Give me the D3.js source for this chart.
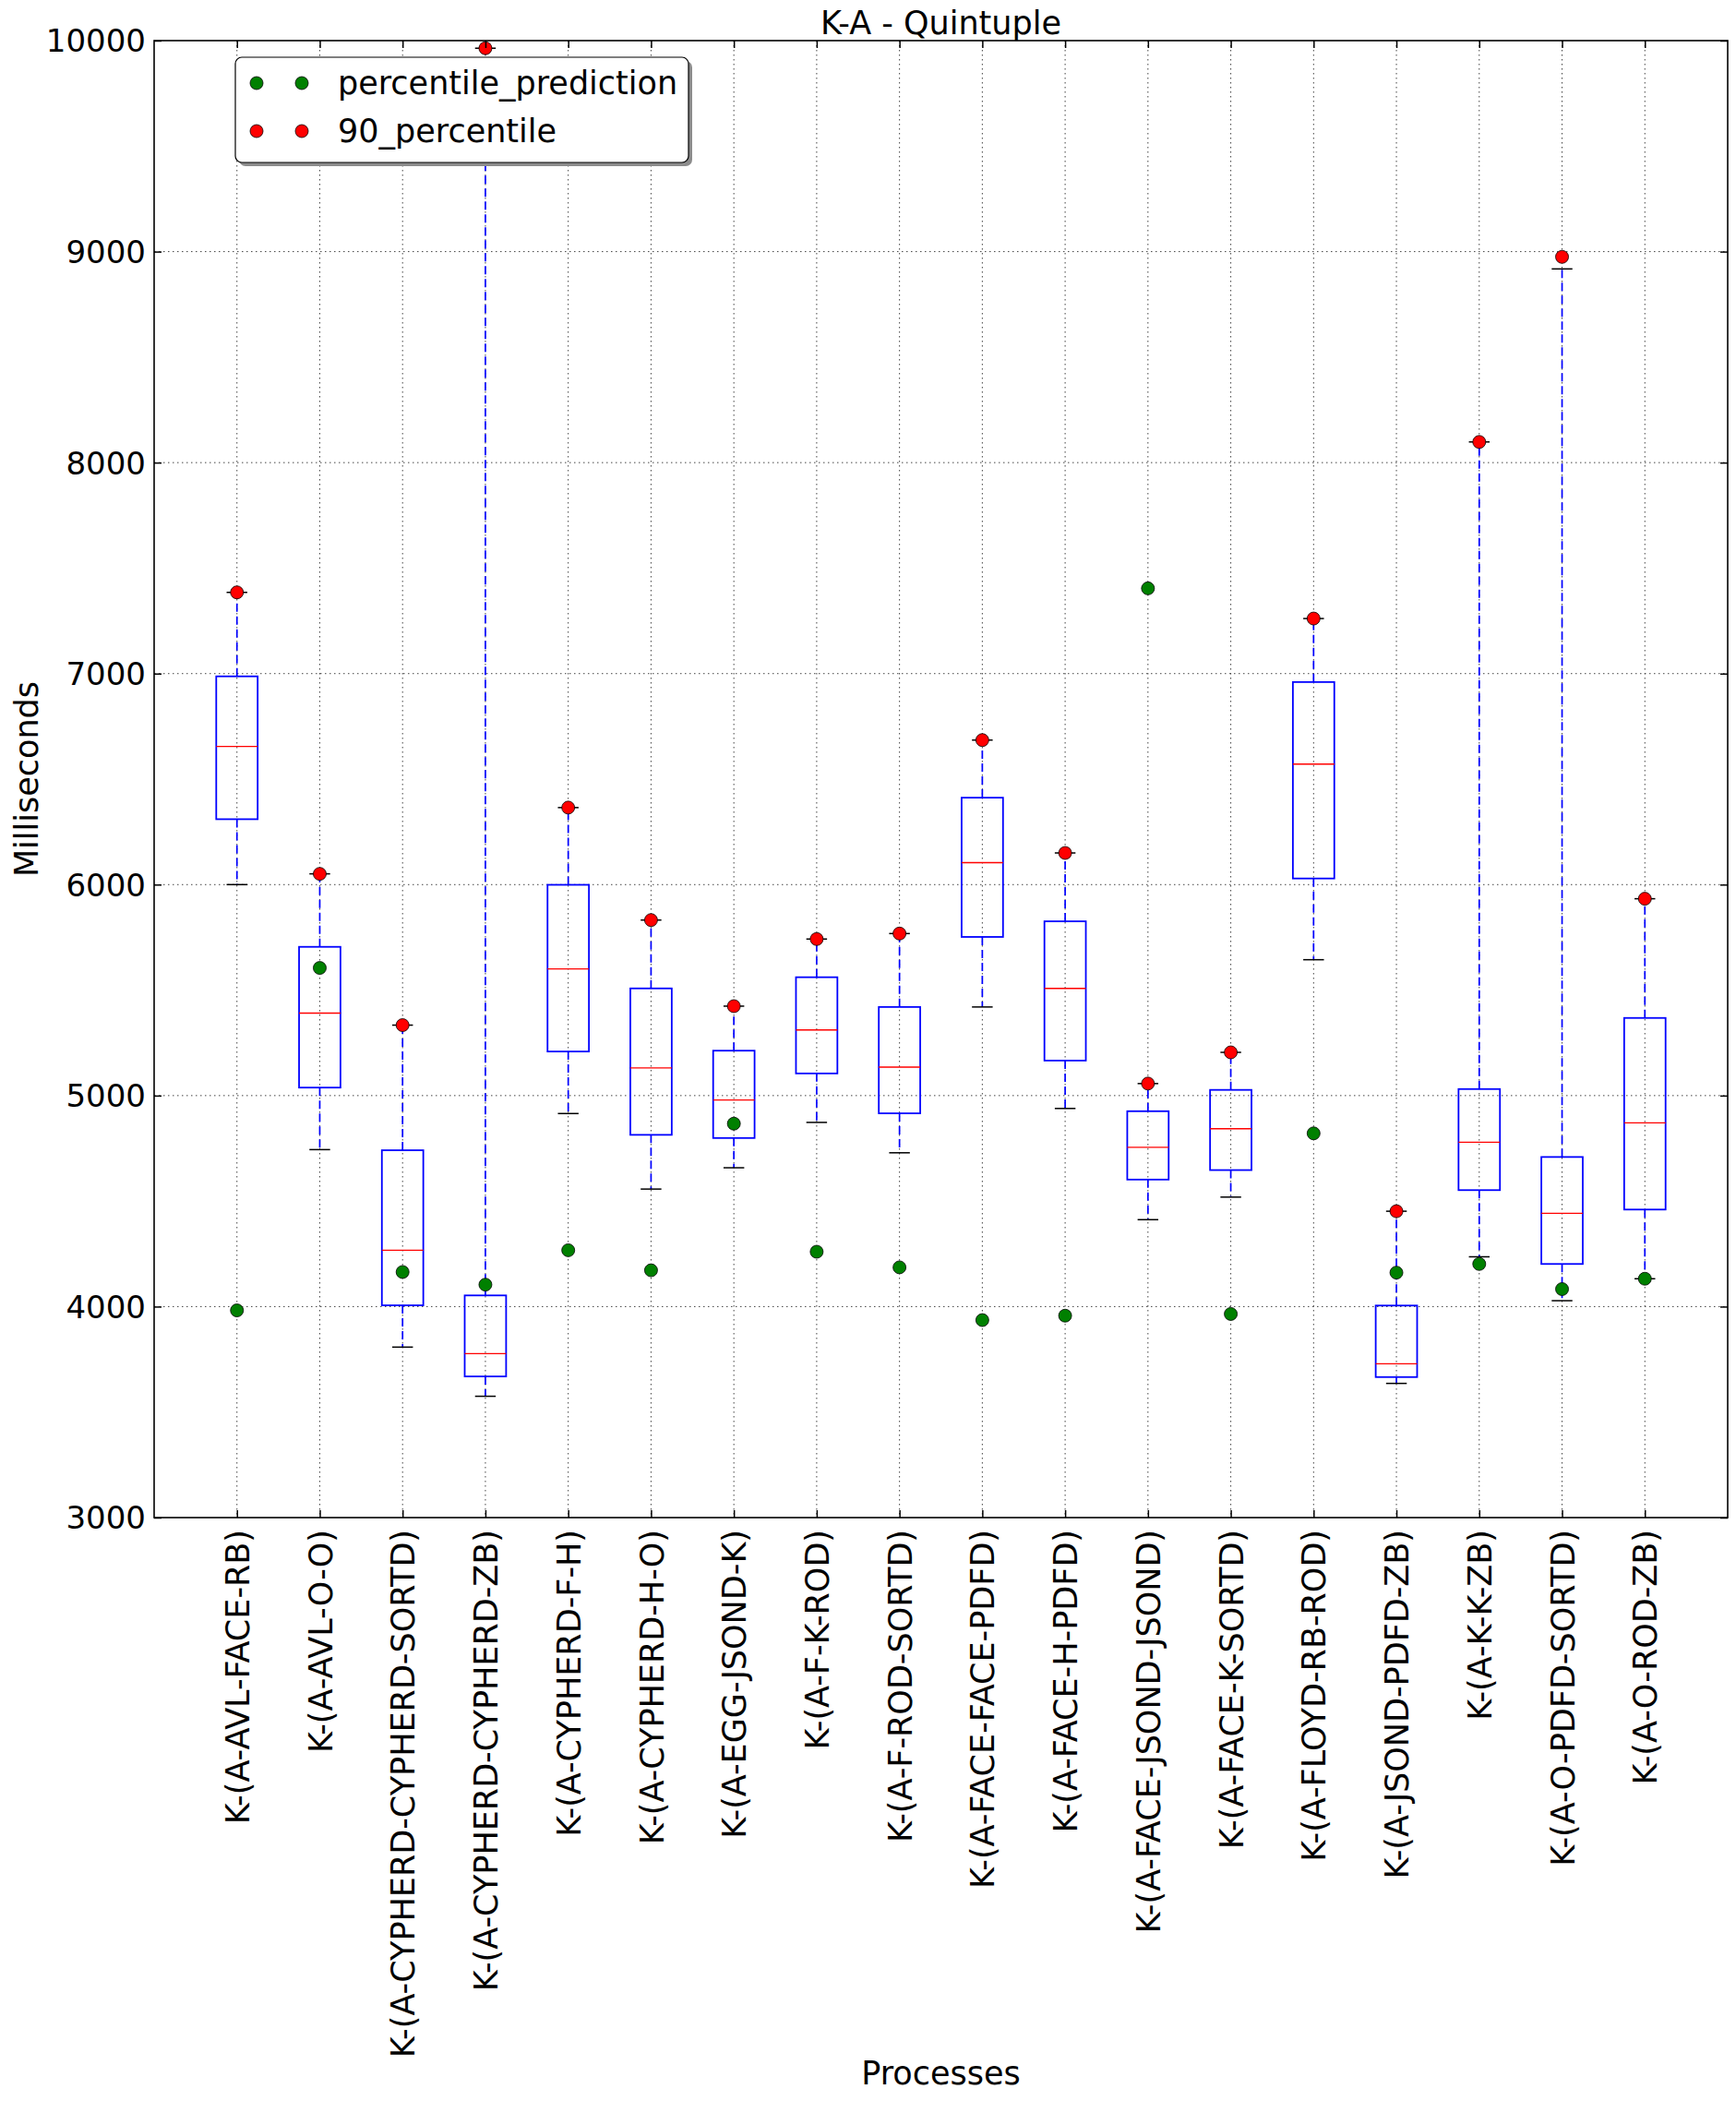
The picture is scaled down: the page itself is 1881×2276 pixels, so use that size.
<!DOCTYPE html>
<html>
<head>
<meta charset="utf-8">
<script src="https://cdn.jsdelivr.net/npm/d3@7"></script>
<style>
  html, body { margin: 0; padding: 0; background: #fff; }
  svg text { font-family: "DejaVu Sans", sans-serif; fill: #000; }
</style>
</head>
<body>
<svg id="chart" width="1881" height="2276"></svg>
<script>
// ---------------- data ----------------
const categories = [
  "K-(A-AVL-FACE-RB)", "K-(A-AVL-O-O)", "K-(A-CYPHERD-CYPHERD-SORTD)", "K-(A-CYPHERD-CYPHERD-ZB)",
  "K-(A-CYPHERD-F-H)", "K-(A-CYPHERD-H-O)", "K-(A-EGG-JSOND-K)", "K-(A-F-K-ROD)",
  "K-(A-F-ROD-SORTD)", "K-(A-FACE-FACE-PDFD)", "K-(A-FACE-H-PDFD)", "K-(A-FACE-JSOND-JSOND)",
  "K-(A-FACE-K-SORTD)", "K-(A-FLOYD-RB-ROD)", "K-(A-JSOND-PDFD-ZB)", "K-(A-K-K-ZB)",
  "K-(A-O-PDFD-SORTD)", "K-(A-O-ROD-ZB)"
];
const whiskerLow  = [6000, 4744, 3808, 3575, 4915, 4557, 4658, 4873, 4729, 5420, 4939, 4412, 4519, 5644, 3636, 4236, 4028, 4132];
const q1          = [6310, 5038, 4006, 3669, 5209, 4814, 4799, 5105, 4916, 5752, 5166, 4602, 4647, 6029, 3666, 4552, 4202, 4460];
const median      = [6655, 5391, 4267, 3777, 5600, 5131, 4979, 5311, 5135, 6104, 5508, 4755, 4843, 6571, 3729, 4779, 4442, 4871];
const q3          = [6987, 5705, 4741, 4053, 5999, 5508, 5213, 5561, 5420, 6412, 5826, 4926, 5027, 6960, 4005, 5031, 4709, 5368];
const whiskerHigh = [7385, 6051, 5334, 9964, 6365, 5832, 5424, 5742, 5768, 6685, 6150, 5057, 5205, 7261, 4452, 8098, 8918, 5933];
const percentile90 = [7385, 6051, 5334, 9964, 6365, 5832, 5424, 5742, 5768, 6685, 6150, 5057, 5205, 7261, 4452, 8098, 8975, 5933];
const prediction  = [3982, 5605, 4164, 4104, 4267, 4172, 4867, 4260, 4186, 3936, 3957, 7404, 3965, 4821, 4161, 4202, 4083, 4132];
const yTicks = [3000, 4000, 5000, 6000, 7000, 8000, 9000, 10000];
const legendLabels = ["percentile_prediction", "90_percentile"];
const legendColors = ["#008000", "#ff0000"];
const titleText = "K-A - Quintuple";
const xLabelText = "Processes";
const yLabelText = "Milliseconds";

// ---------------- layout ----------------
const L = 167, R = 1872, T = 44, B = 1644;
const FS = 35, FST = 34;
const svg = d3.select("#chart");
const positions = categories.map((_, i) => i + 1);
const x = d3.scaleLinear().domain([0, categories.length + 1]).range([L, R]);
const y = d3.scaleLinear().domain([3000, 10000]).range([B, T]);
const boxW = (x(1) - x(0)) * 0.5;
const capW = boxW * 0.5;

const rows = positions.map((p, i) => ({
  p, wl: whiskerLow[i], q1: q1[i], med: median[i], q3: q3[i],
  wh: whiskerHigh[i], p90: percentile90[i], pred: prediction[i]
}));

// grid
const grid = svg.append("g");
grid.selectAll("line.gx").data(positions).join("line")
  .attr("x1", d => x(d)).attr("x2", d => x(d)).attr("y1", T).attr("y2", B)
  .attr("stroke", "#444").attr("stroke-width", 1).attr("stroke-dasharray", "1.5,3.5");
grid.selectAll("line.gy").data(yTicks.slice(1, -1)).join("line")
  .attr("x1", L).attr("x2", R).attr("y1", d => y(d)).attr("y2", d => y(d))
  .attr("stroke", "#444").attr("stroke-width", 1).attr("stroke-dasharray", "1.5,3.5");

// whiskers
const g = svg.append("g");
g.selectAll("line.wlo").data(rows).join("line")
  .attr("x1", d => x(d.p)).attr("x2", d => x(d.p)).attr("y1", d => y(d.q1)).attr("y2", d => y(d.wl))
  .attr("stroke", "#0000ff").attr("stroke-width", 1.7).attr("stroke-dasharray", "9,5");
g.selectAll("line.whi").data(rows).join("line")
  .attr("x1", d => x(d.p)).attr("x2", d => x(d.p)).attr("y1", d => y(d.q3)).attr("y2", d => y(d.wh))
  .attr("stroke", "#0000ff").attr("stroke-width", 1.7).attr("stroke-dasharray", "9,5");
// caps
g.selectAll("line.clo").data(rows).join("line")
  .attr("x1", d => x(d.p) - capW / 2).attr("x2", d => x(d.p) + capW / 2)
  .attr("y1", d => y(d.wl)).attr("y2", d => y(d.wl))
  .attr("stroke", "#000").attr("stroke-width", 1.5);
g.selectAll("line.chi").data(rows).join("line")
  .attr("x1", d => x(d.p) - capW / 2).attr("x2", d => x(d.p) + capW / 2)
  .attr("y1", d => y(d.wh)).attr("y2", d => y(d.wh))
  .attr("stroke", "#000").attr("stroke-width", 1.5);
// boxes
g.selectAll("rect.box").data(rows).join("rect")
  .attr("x", d => x(d.p) - boxW / 2).attr("width", boxW)
  .attr("y", d => y(d.q3)).attr("height", d => y(d.q1) - y(d.q3))
  .attr("fill", "none").attr("stroke", "#0000ff").attr("stroke-width", 1.8);
// medians
g.selectAll("line.med").data(rows).join("line")
  .attr("x1", d => x(d.p) - boxW / 2).attr("x2", d => x(d.p) + boxW / 2)
  .attr("y1", d => y(d.med)).attr("y2", d => y(d.med))
  .attr("stroke", "#ff0000").attr("stroke-width", 1.3);

// points
g.selectAll("circle.pred").data(rows).join("circle")
  .attr("cx", d => x(d.p)).attr("cy", d => y(d.pred)).attr("r", 7)
  .attr("fill", legendColors[0]).attr("stroke", "#000").attr("stroke-width", 0.8);
g.selectAll("circle.p90").data(rows).join("circle")
  .attr("cx", d => x(d.p)).attr("cy", d => y(d.p90)).attr("r", 7)
  .attr("fill", legendColors[1]).attr("stroke", "#000").attr("stroke-width", 0.8);

// axes
const axL = svg.append("g").attr("transform", `translate(${L},0)`)
  .call(d3.axisLeft(y).tickValues(yTicks).tickSize(-8).tickSizeOuter(0).tickPadding(9).tickFormat(d3.format("d")));
const axR = svg.append("g").attr("transform", `translate(${R},0)`)
  .call(d3.axisRight(y).tickValues(yTicks).tickSize(-8).tickSizeOuter(0).tickFormat(""));
const axB = svg.append("g").attr("transform", `translate(0,${B})`)
  .call(d3.axisBottom(x).tickValues(positions).tickSize(-8).tickSizeOuter(0).tickFormat(d => categories[d - 1]));
const axT = svg.append("g").attr("transform", `translate(0,${T})`)
  .call(d3.axisTop(x).tickValues(positions).tickSize(-8).tickSizeOuter(0).tickFormat(""));
[axL, axR, axB, axT].forEach(a => {
  a.select(".domain").remove();
  a.selectAll(".tick line").attr("stroke", "#000").attr("stroke-width", 1.5);
  a.selectAll("text").style("font-family", "DejaVu Sans").attr("fill", "#000");
});
axL.selectAll(".tick text").style("font-size", FST + "px").attr("dy", "0.35em");
axB.selectAll(".tick text")
  .style("font-size", FS + "px")
  .attr("x", 0).attr("y", 0).attr("dy", "0.36em")
  .attr("text-anchor", "end")
  .attr("transform", "translate(0,13) rotate(-90)");

// frame
svg.append("rect").attr("x", L).attr("y", T).attr("width", R - L).attr("height", B - T)
  .attr("fill", "none").attr("stroke", "#000").attr("stroke-width", 1.6);

// title & labels
svg.append("text").attr("x", (L + R) / 2).attr("y", 37).attr("text-anchor", "middle")
  .style("font-size", FS + "px").text(titleText);
svg.append("text").attr("x", (L + R) / 2).attr("y", 2258).attr("text-anchor", "middle")
  .style("font-size", FS + "px").text(xLabelText);
svg.append("text").attr("transform", `translate(41,${(T + B) / 2}) rotate(-90)`).attr("text-anchor", "middle")
  .style("font-size", FS + "px").text(yLabelText);

// legend
const lg = svg.append("g");
const lx = 255, ly = 62, lw = 491, lh = 114;
lg.append("rect").attr("x", lx + 4).attr("y", ly + 4).attr("width", lw).attr("height", lh)
  .attr("rx", 7).attr("fill", "#8c8c8c");
lg.append("rect").attr("x", lx).attr("y", ly).attr("width", lw).attr("height", lh)
  .attr("rx", 7).attr("fill", "#fff").attr("stroke", "#000").attr("stroke-width", 1.2);
const entryY = [90, 142];
legendLabels.forEach((lab, i) => {
  [278, 327].forEach(mx => {
    lg.append("circle").attr("cx", mx).attr("cy", entryY[i]).attr("r", 7)
      .attr("fill", legendColors[i]).attr("stroke", "#000").attr("stroke-width", 0.8);
  });
  lg.append("text").attr("x", 366).attr("y", entryY[i]).attr("dy", "0.35em")
    .style("font-size", FS + "px").text(lab);
});
</script>
</body>
</html>
